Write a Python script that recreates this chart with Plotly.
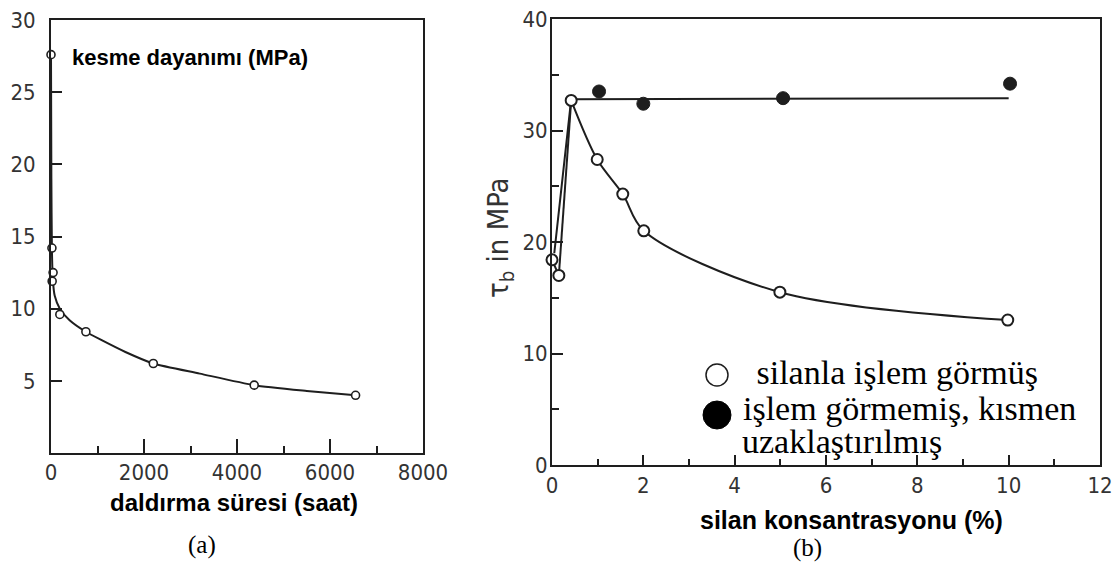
import plotly.graph_objects as go

W, H = 1117, 570

# ---------- panel (a) data ----------
a_pts_x = [0, 20, 45, 25, 190, 750, 2200, 4370, 6550]
a_pts_y = [27.6, 14.2, 12.5, 11.9, 9.6, 8.4, 6.2, 4.7, 4.0]
a_fit_x = [0, 8, 20, 40, 80, 190, 400, 750, 1100, 1600, 2200, 3200, 4370, 5500, 6550]
a_fit_y = [27.6, 19.0, 14.0, 12.0, 10.9, 10.0, 9.2, 8.4, 7.8, 7.0, 6.2, 5.5, 4.7, 4.3, 4.0]
a_xticks = [0, 2000, 4000, 6000, 8000]
a_yticks = [5, 10, 15, 20, 25, 30]

# ---------- panel (b) data ----------
b_open_x = [0.0, 0.15, 0.42, 0.99, 1.55, 2.01, 4.99, 9.98]
b_open_y = [18.4, 17.0, 32.7, 27.4, 24.3, 21.0, 15.5, 13.0]
b_solid_x = [1.03, 2.0, 5.06, 10.03]
b_solid_y = [33.5, 32.4, 32.9, 34.2]
b_trend_x = [0.05, 0.42, 10.0]
b_trend_y = [19.0, 32.8, 32.9]
b_xticks = [0, 2, 4, 6, 8, 10, 12]
b_yticks = [0, 10, 20, 30, 40]

LINE = "#1e1e1e"
TICKC = "#333333"
NARROW = "Liberation Sans Narrow, DejaVu Sans Condensed, Arial Narrow, sans-serif"
SANS = "Liberation Sans, Arial, sans-serif"
SERIF = "Liberation Serif, Times New Roman, serif"


def px(x):
    return x / W


def py(y):
    return 1 - y / H


fig = go.Figure()

# panel (a)
fig.add_trace(go.Scatter(x=a_fit_x, y=a_fit_y, mode="lines", xaxis="x", yaxis="y",
                         line=dict(color=LINE, width=2, shape="spline", smoothing=0.6),
                         hoverinfo="skip", showlegend=False, cliponaxis=False))
fig.add_trace(go.Scatter(x=a_pts_x, y=a_pts_y, mode="markers", xaxis="x", yaxis="y",
                         marker=dict(symbol="circle", size=8, color="white",
                                     line=dict(color=LINE, width=1.6)),
                         showlegend=False, cliponaxis=False))

# panel (b)
fig.add_trace(go.Scatter(x=b_trend_x, y=b_trend_y, mode="lines", xaxis="x2", yaxis="y2",
                         line=dict(color=LINE, width=2), hoverinfo="skip",
                         showlegend=False, cliponaxis=False))
fig.add_trace(go.Scatter(x=b_open_x[1:3], y=b_open_y[1:3], mode="lines", xaxis="x2", yaxis="y2",
                         line=dict(color=LINE, width=2), hoverinfo="skip",
                         showlegend=False, cliponaxis=False))
fig.add_trace(go.Scatter(x=b_open_x[:2], y=b_open_y[:2], mode="lines", xaxis="x2", yaxis="y2",
                         line=dict(color=LINE, width=2), hoverinfo="skip",
                         showlegend=False, cliponaxis=False))
fig.add_trace(go.Scatter(x=b_open_x[2:], y=b_open_y[2:], mode="lines", xaxis="x2", yaxis="y2",
                         line=dict(color=LINE, width=2, shape="spline", smoothing=0.9),
                         hoverinfo="skip", showlegend=False, cliponaxis=False))
fig.add_trace(go.Scatter(x=b_open_x, y=b_open_y, mode="markers", xaxis="x2", yaxis="y2",
                         marker=dict(symbol="circle", size=11, color="white",
                                     line=dict(color=LINE, width=2)),
                         showlegend=False, cliponaxis=False))
fig.add_trace(go.Scatter(x=b_solid_x, y=b_solid_y, mode="markers", xaxis="x2", yaxis="y2",
                         marker=dict(symbol="circle", size=13, color=LINE,
                                     line=dict(color=LINE, width=1)),
                         showlegend=False, cliponaxis=False))

axis_common = dict(showline=True, mirror=True, linecolor=LINE, linewidth=2, automargin=False,
                   showgrid=False, zeroline=False, ticks="inside", tickcolor=LINE,
                   tickwidth=2, ticklabeloverflow="allow",
                   tickfont=dict(family=NARROW, size=22, color=TICKC))

fig.update_layout(
    width=W, height=H,
    margin=dict(l=0, r=0, t=0, b=0, autoexpand=False),
    paper_bgcolor="white", plot_bgcolor="white",
    showlegend=False,
    xaxis=dict(domain=[px(51), px(423)], range=[0, 8000], anchor="y",
               tickvals=a_xticks, ticklen=14, ticklabelstandoff=-1,
               minor=dict(dtick=1000, ticklen=7, ticks="inside", tickcolor=LINE, tickwidth=2),
               **axis_common),
    yaxis=dict(domain=[py(453), py(20)], range=[0, 30], anchor="x",
               tickvals=a_yticks, ticklen=11, ticklabelstandoff=9,
               **axis_common),
    xaxis2=dict(domain=[px(552), px(1100)], range=[0, 12], anchor="y2",
                tickvals=b_xticks, ticklen=10, ticklabelstandoff=0,
                minor=dict(dtick=1, ticklen=6, ticks="inside", tickcolor=LINE, tickwidth=2),
                **axis_common),
    yaxis2=dict(domain=[py(465), py(19)], range=[0, 40], anchor="x2",
                tickvals=b_yticks, ticklen=11, ticklabelstandoff=-2,
                minor=dict(dtick=5, ticklen=7, ticks="inside", tickcolor=LINE, tickwidth=2),
                **axis_common),
)

ann = [
    dict(text="<b>kesme dayanımı (MPa)</b>", x=px(70), y=py(58), xanchor="left", yanchor="middle",
         font=dict(family=SANS, size=22, color="black")),
    dict(text="<b>daldırma süresi (saat)</b>", x=px(234), y=py(502), xanchor="center", yanchor="middle",
         font=dict(family=SANS, size=24, color="black")),
    dict(text="<b>silan konsantrasyonu (%)</b>", x=px(851), y=py(520), xanchor="center", yanchor="middle",
         font=dict(family=SANS, size=25, color="black")),
    dict(text="(a)", x=px(202), y=py(545), xanchor="center", yanchor="middle",
         font=dict(family=SERIF, size=25, color="black")),
    dict(text="(b)", x=px(807), y=py(548), xanchor="center", yanchor="middle",
         font=dict(family=SERIF, size=25, color="black")),
    dict(text="τ<sub>b</sub> in MPa", x=px(500), y=py(238), xanchor="center", yanchor="middle",
         textangle=-90, font=dict(family=NARROW, size=29, color=TICKC)),
    dict(text=" silanla işlem görmüş", x=px(746), y=py(372), xanchor="left", yanchor="middle",
         font=dict(family=SERIF, size=34, color="black")),
    dict(text="işlem görmemiş, kısmen", x=px(741), y=py(408), xanchor="left", yanchor="middle",
         font=dict(family=SERIF, size=34, color="black")),
    dict(text="uzaklaştırılmış", x=px(740), y=py(441), xanchor="left", yanchor="middle",
         font=dict(family=SERIF, size=34, color="black")),
]
for a in ann:
    a.update(xref="paper", yref="paper", showarrow=False)
    fig.add_annotation(**a)

# legend symbols
fig.add_shape(type="circle", xref="paper", yref="paper", xsizemode="pixel", ysizemode="pixel",
              xanchor=px(717), yanchor=py(375), x0=-11, x1=11, y0=-11, y1=11,
              line=dict(color=LINE, width=1.5), fillcolor="white")
fig.add_shape(type="circle", xref="paper", yref="paper", xsizemode="pixel", ysizemode="pixel",
              xanchor=px(717), yanchor=py(415), x0=-14, x1=14, y0=-14, y1=14,
              line=dict(color="black", width=1), fillcolor="black")

fig.write_html(
    "out.html",
    config={"displayModeBar": False},
    post_script="document.documentElement.style.overflow='hidden';"
                "document.body.style.margin='0';document.body.style.overflow='hidden';",
)
